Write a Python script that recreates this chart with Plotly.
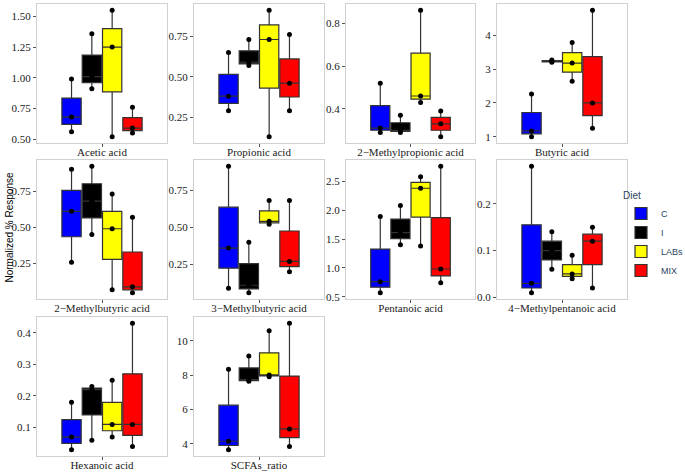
import plotly.graph_objects as go

# panels (facet labels), in facet_wrap order
acids = ["Acetic acid", "Propionic acid", "2−Methylpropionic acid", "Butyric acid",
         "2−Methylbutyric acid", "3−Methylbutyric acid", "Pentanoic acid",
         "4−Methylpentanoic acid", "Hexanoic acid", "SCFAs_ratio"]

diets = ["C", "I", "LABs", "MIX"]

# three replicates per diet and acid
c_vals = [[0.56, 0.68, 0.99], [0.29, 0.38, 0.65], [0.29, 0.31, 0.52], [1.00, 1.17, 2.26],
          [0.26, 0.61, 0.90], [0.09, 0.36, 0.91], [0.57, 0.76, 1.89], [0.01, 0.03, 0.28],
          [0.03, 0.07, 0.18], [3.65, 4.14, 8.34]]
i_vals = [[0.91, 1.01, 1.36], [0.57, 0.59, 0.73], [0.29, 0.30, 0.37], [3.20, 3.23, 3.27],
          [0.45, 0.68, 0.92], [0.06, 0.11, 0.40], [1.40, 1.61, 2.08], [0.06, 0.10, 0.14],
          [0.06, 0.22, 0.23], [7.63, 7.72, 9.10]]
labs_vals = [[0.52, 1.25, 1.55], [0.13, 0.73, 0.91], [0.43, 0.46, 0.86], [2.64, 3.18, 3.79],
             [0.07, 0.49, 0.73], [0.52, 0.54, 0.68], [1.38, 2.38, 2.58], [0.04, 0.05, 0.09],
             [0.07, 0.11, 0.25], [7.90, 8.00, 10.58]]
mix_vals = [[0.55, 0.59, 0.76], [0.29, 0.46, 0.76], [0.27, 0.33, 0.39], [1.25, 2.00, 4.74],
            [0.05, 0.09, 0.57], [0.20, 0.27, 0.68], [0.74, 0.98, 2.76], [0.02, 0.12, 0.15],
            [0.04, 0.11, 0.43], [3.84, 4.86, 11.01]]

# y tick values per panel
y_ticks = [[0.5, 0.75, 1.0, 1.25, 1.5], [0.25, 0.5, 0.75], [0.4, 0.6, 0.8], [1, 2, 3, 4],
           [0.25, 0.5, 0.75], [0.25, 0.5, 0.75], [0.5, 1.0, 1.5, 2.0, 2.5], [0.0, 0.1, 0.2],
           [0.1, 0.2, 0.3, 0.4], [4, 6, 8, 10]]
y_fmt = [".2f", ".2f", ".1f", "d", ".2f", ".2f", ".1f", ".1f", ".1f", "d"]

all_vals = [c_vals, i_vals, labs_vals, mix_vals]
fills = ["#0000FF", "#000000", "#FFFF00", "#FF0000"]

W, H = 685, 474
col_px = [(37, 167), (194, 324), (346, 475), (497, 627)]
row_px = [(4, 143), (160, 299), (317, 456)]

serif = "Liberation Serif"
sans = "Liberation Sans"

fig = go.Figure()
layout = {}

for k, acid in enumerate(acids):
    n = k + 1
    xa = "x" if n == 1 else f"x{n}"
    ya = "y" if n == 1 else f"y{n}"
    for d, diet in enumerate(diets):
        vals = all_vals[d][k]
        fig.add_trace(go.Box(
            x=[acid] * len(vals), y=vals, name=diet,
            xaxis=xa, yaxis=ya,
            offsetgroup=diet, alignmentgroup=acid,
            legendgroup=diet, showlegend=(k == 0),
            fillcolor=fills[d],
            line=dict(color="#333333", width=1.2),
            marker=dict(color="black", size=5),
            boxpoints="all", jitter=0, pointpos=0,
            quartilemethod="inclusive", whiskerwidth=0,
            hoverinfo="y",
        ))

    lo = min(min(v[k]) for v in all_vals)
    hi = max(max(v[k]) for v in all_vals)
    pad = (hi - lo) * 0.05
    r, c = divmod(k, 4)
    x0, x1 = col_px[c]
    y0, y1 = row_px[r]
    axis_common = dict(showline=True, mirror=True, linecolor="#D0D0D0", linewidth=1,
                       showgrid=False, zeroline=False, ticks="outside", ticklen=3,
                       tickcolor="#555555", automargin=False,
                       tickfont=dict(family=serif, size=11, color="#1a1a1a"))
    layout["xaxis" if n == 1 else f"xaxis{n}"] = dict(
        axis_common, domain=[x0 / W, x1 / W], anchor=ya,
        type="category", range=[-0.6, 0.6], fixedrange=True,
        ticklabelstandoff=-4)
    layout["yaxis" if n == 1 else f"yaxis{n}"] = dict(
        axis_common, domain=[1 - y1 / H, 1 - y0 / H], anchor=xa,
        range=[lo - pad, hi + pad], tickvals=y_ticks[k], tickformat=y_fmt[k])

fig.update_layout(**layout)
fig.update_layout(
    width=W, height=H,
    margin=dict(l=0, r=0, t=0, b=0, autoexpand=False),
    paper_bgcolor="white", plot_bgcolor="white",
    boxmode="group", boxgap=0.25, boxgroupgap=0.05,
    legend=dict(title=dict(text="Diet", font=dict(family=sans, size=10)),
                font=dict(family=sans, size=9),
                x=621 / W, y=1 - 186 / H, xanchor="left", yanchor="top",
                itemwidth=30, tracegroupgap=0, bgcolor="rgba(0,0,0,0)"),
    annotations=[dict(text="Normalized % Response", textangle=-90,
                      x=8.5 / W, y=1 - 228 / H, xref="paper", yref="paper",
                      xanchor="center", yanchor="middle",
                      showarrow=False, font=dict(family=sans, size=10, color="black"))],
)

# the page body has a default 8px margin; drop it so the figure sits at 0,0
fig.write_html("out.html", config={"displayModeBar": False},
               post_script="document.body.style.margin='0px';")
